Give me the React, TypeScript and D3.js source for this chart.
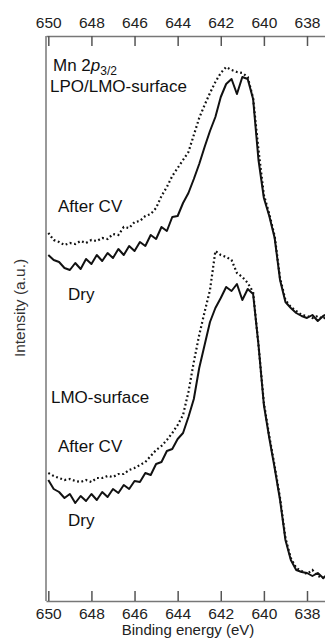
import React, { useEffect, useRef } from 'react';
import * as d3 from 'd3';

const width = 325;
const height = 640;
const margin = { top: 36, right: 0, bottom: 39, left: 46 };
const font = '"Liberation Sans", Arial, sans-serif';

// binding energy grid (eV)
const energies = [
  650, 649.75, 649.5, 649.25, 649, 648.75, 648.5, 648.25, 648, 647.75,
  647.5, 647.25, 647, 646.75, 646.5, 646.25, 646, 645.75, 645.5, 645.25,
  645, 644.75, 644.5, 644.25, 644, 643.75, 643.5, 643.25, 643, 642.75,
  642.5, 642.25, 642, 641.75, 641.5, 641.25, 641, 640.75, 640.5, 640.25,
  640, 639.75, 639.5, 639.25, 639, 638.75, 638.5, 638.25, 638, 637.75,
  637.5, 637.25, 637.15,
];

// LPO/LMO-surface (upper pair), intensity in a.u.
const lpoDry = [
  346, 341, 339, 333, 331, 338, 332, 342, 337, 346,
  340, 348, 343, 352, 346, 355, 350, 359, 355, 366,
  362, 374, 370, 384, 385, 398, 408, 422, 437, 454,
  470, 484, 504, 517, 522, 507, 524, 522, 502, 441,
  403, 385, 363, 321, 299, 293, 288, 285, 283, 286,
  280, 285, 286,
];
const lpoAfterCV = [
  368, 361, 359, 356, 358, 357, 360, 358, 361, 360,
  363, 362, 367, 366, 374, 373, 379, 380, 385, 387,
  393, 405, 414, 425, 433, 441, 449, 466, 483, 496,
  508, 519, 528, 534, 531, 529, 528, 524, 503, 451,
  406, 387, 365, 323, 301, 294, 290, 286, 285, 283,
  285, 282, 284,
];

// LMO-surface (lower pair)
const lmoDry = [
  121, 112, 109, 103, 107, 98, 105, 100, 107, 101,
  109, 104, 112, 108, 116, 112, 120, 119, 128, 126,
  137, 139, 150, 152, 162, 168, 184, 202, 233, 256,
  279, 293, 303, 314, 310, 317, 301, 312, 307, 256,
  196, 163, 133, 101, 61, 41, 31, 29, 28, 25,
  28, 23, 25,
];
const lmoAfterCV = [
  128, 125, 123, 121, 122, 120, 119, 121, 119, 123,
  123, 125, 124, 127, 127, 131, 133, 136, 139, 145,
  151, 155, 161, 168, 176, 186, 209, 239, 266, 289,
  311, 350, 346, 344, 341, 328, 324, 318, 309, 256,
  198, 165, 135, 103, 63, 43, 33, 30, 27, 31,
  25, 23, 21,
];

const energyTicks = [650, 648, 646, 644, 642, 640, 638];

const x = d3.scaleLinear().domain([650.107, 637.165]).range([margin.left, width - margin.right]);
const y = d3.scaleLinear().domain([0, 565]).range([height - margin.bottom, margin.top]);

const line = d3.line<number>()
  .x((d, i) => x(energies[i]))
  .y(d => y(d));

function styleAxis(g) {
  g.select('.domain').attr('stroke', '#777').attr('stroke-width', 1.5);
  g.selectAll('.tick line').attr('stroke', '#555').attr('stroke-width', 1.5);
  g.selectAll('.tick text')
    .attr('fill', '#222')
    .style('font-size', '15.5px')
    .style('font-family', font);
}

export default function App() {
  const topRef = useRef(null);
  const bottomRef = useRef(null);

  useEffect(() => {
    const top = d3.select(topRef.current);
    top.call(d3.axisTop(x).tickValues(energyTicks).tickFormat(d3.format('d'))
      .tickSize(-10).tickSizeOuter(0).tickPadding(8));
    styleAxis(top);

    const bottom = d3.select(bottomRef.current);
    bottom.call(d3.axisBottom(x).tickValues(energyTicks).tickFormat(d3.format('d'))
      .tickSize(-10).tickSizeOuter(0).tickPadding(7));
    styleAxis(bottom);
  }, []);

  const labelStyle = { fontFamily: font, fontSize: 17, fill: '#111' };

  return (
    <svg width={width} height={height}
      style={{ position: 'absolute', left: 0, top: 0, background: '#fff' }}>
      <g ref={topRef} transform={`translate(0, ${margin.top})`} />
      <g ref={bottomRef} transform={`translate(0, ${height - margin.bottom})`} />
      <line x1={margin.left} x2={margin.left} y1={margin.top} y2={height - margin.bottom}
        stroke='#777' strokeWidth={1.5} />

      <path d={line(lpoAfterCV)} fill='none' stroke='#111' strokeWidth={2.2}
        strokeDasharray='1.8 2.6' />
      <path d={line(lpoDry)} fill='none' stroke='#111' strokeWidth={2} strokeLinejoin='round' />
      <path d={line(lmoAfterCV)} fill='none' stroke='#111' strokeWidth={2.2}
        strokeDasharray='1.8 2.6' />
      <path d={line(lmoDry)} fill='none' stroke='#111' strokeWidth={2} strokeLinejoin='round' />

      <text x={53} y={71} style={labelStyle}>
        Mn 2<tspan fontStyle='italic'>p</tspan>
        <tspan fontSize={12} dy={4}>3/2</tspan>
      </text>
      <text x={50} y={92} style={labelStyle}>LPO/LMO-surface</text>
      <text x={58} y={212} style={labelStyle}>After CV</text>
      <text x={68} y={300} style={labelStyle}>Dry</text>
      <text x={51} y={403} style={labelStyle}>LMO-surface</text>
      <text x={58} y={452} style={labelStyle}>After CV</text>
      <text x={68} y={526} style={labelStyle}>Dry</text>

      <text transform='translate(25, 308) rotate(-90)' textAnchor='middle'
        style={{ fontFamily: font, fontSize: 15.5, fill: '#333' }}>Intensity (a.u.)</text>
      <text x={188} y={635} textAnchor='middle'
        style={{ fontFamily: font, fontSize: 15, fill: '#222' }}>Binding energy (eV)</text>
    </svg>
  );
}
